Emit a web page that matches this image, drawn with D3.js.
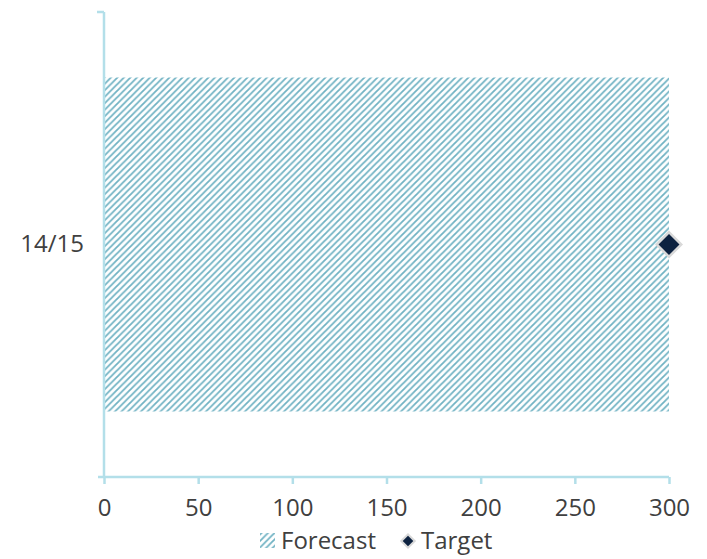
<!DOCTYPE html>
<html>
<head>
<meta charset="utf-8">
<script src="https://cdn.jsdelivr.net/npm/d3@7"></script>
<style>
  body { margin: 0; background: #fff; }
  svg text { font-family: "Open Sans", "Noto Sans", sans-serif; fill: #404040; }
</style>
</head>
<body>
<svg width="707" height="559"></svg>
<script>
// Data
var categories = ["14/15"];
var forecast = [300];
var target = [300];
var xTicks = [0, 50, 100, 150, 200, 250, 300];

var svg = d3.select("svg"),
	width = +svg.attr("width"),
	height = +svg.attr("height");

var margin = {top: 12, right: 38, bottom: 82, left: 104};
var axisColor = "#b3dfe9";
var fontSize = "24px";

var x = d3.scaleLinear()
	.domain([0, 300])
	.range([margin.left, width - margin.right]);

var y = d3.scaleBand()
	.domain(categories)
	.range([margin.top, height - margin.bottom])
	.paddingInner(0.164)
	.paddingOuter(0.164);

// Hatch pattern
var defs = svg.append("defs");
defs.append("pattern")
	.attr("id", "hatch")
	.attr("patternUnits", "userSpaceOnUse")
	.attr("width", 6.5)
	.attr("height", 6.5)
	.append("path")
	.attr("d", "M-1,1 l2,-2 M0,6.5 l6.5,-6.5 M5.5,7.5 l2,-2")
	.attr("stroke", "#4c9fb4")
	.attr("stroke-width", 1.8)
	.attr("opacity", 0.8);

// Bars
svg.append("g")
	.selectAll("rect")
	.data(categories)
	.enter()
	.append("rect")
	.attr("x", x(0))
	.attr("y", function(d){ return y(d); })
	.attr("width", function(d, i){ return x(forecast[i]) - x(0); })
	.attr("height", y.bandwidth())
	.attr("fill", "url(#hatch)");

// Axes
var xAxis = svg.append("g")
	.attr("transform", "translate(0," + (height - margin.bottom) + ")")
	.call(d3.axisBottom(x).tickValues(xTicks).tickSizeOuter(0).tickSize(7).tickPadding(15));
xAxis.select(".domain").remove();
xAxis.append("line")
	.attr("x1", margin.left - 6).attr("x2", x(300))
	.attr("stroke", axisColor).attr("stroke-width", 2.5);
xAxis.selectAll(".tick line").attr("stroke", axisColor).attr("stroke-width", 2.5);
xAxis.selectAll(".tick text").attr("font-size", fontSize).attr("fill", "#404040");

var yAxis = svg.append("g")
	.attr("transform", "translate(" + margin.left + ",0)")
	.call(d3.axisLeft(y).tickSize(0).tickPadding(20));
yAxis.select(".domain").remove();
yAxis.append("line")
	.attr("y1", margin.top).attr("y2", height - margin.bottom)
	.attr("stroke", axisColor).attr("stroke-width", 2.5);
yAxis.append("line")
	.attr("x1", -7).attr("x2", 0)
	.attr("y1", margin.top).attr("y2", margin.top)
	.attr("stroke", axisColor).attr("stroke-width", 2.5);
yAxis.selectAll(".tick text").attr("font-size", fontSize).attr("fill", "#404040");

// Target markers
var diamond = d3.symbol().type(d3.symbolSquare);
svg.append("g")
	.selectAll("path")
	.data(categories)
	.enter()
	.append("path")
	.attr("d", diamond.size(300))
	.attr("transform", function(d, i){
		return "translate(" + x(target[i]) + "," + (y(d) + y.bandwidth() / 2) + ") rotate(45)";
	})
	.attr("fill", "#0d2240")
	.attr("stroke", "#d9d9d9")
	.attr("stroke-width", 2.5);

// Legend
var legend = svg.append("g").attr("transform", "translate(0,541)");
legend.append("rect")
	.attr("x", 260).attr("y", -8)
	.attr("width", 15).attr("height", 15)
	.attr("fill", "url(#hatch)");
legend.append("text")
	.attr("x", 281).attr("y", 0).attr("dy", "0.35em")
	.attr("font-size", fontSize)
	.text("Forecast");
legend.append("path")
	.attr("d", diamond.size(90))
	.attr("transform", "translate(408,0) rotate(45)")
	.attr("fill", "#0d2240")
	.attr("stroke", "#d9d9d9")
	.attr("stroke-width", 2);
legend.append("text")
	.attr("x", 421).attr("y", 0).attr("dy", "0.35em")
	.attr("font-size", fontSize)
	.text("Target");
</script>
</body>
</html>
